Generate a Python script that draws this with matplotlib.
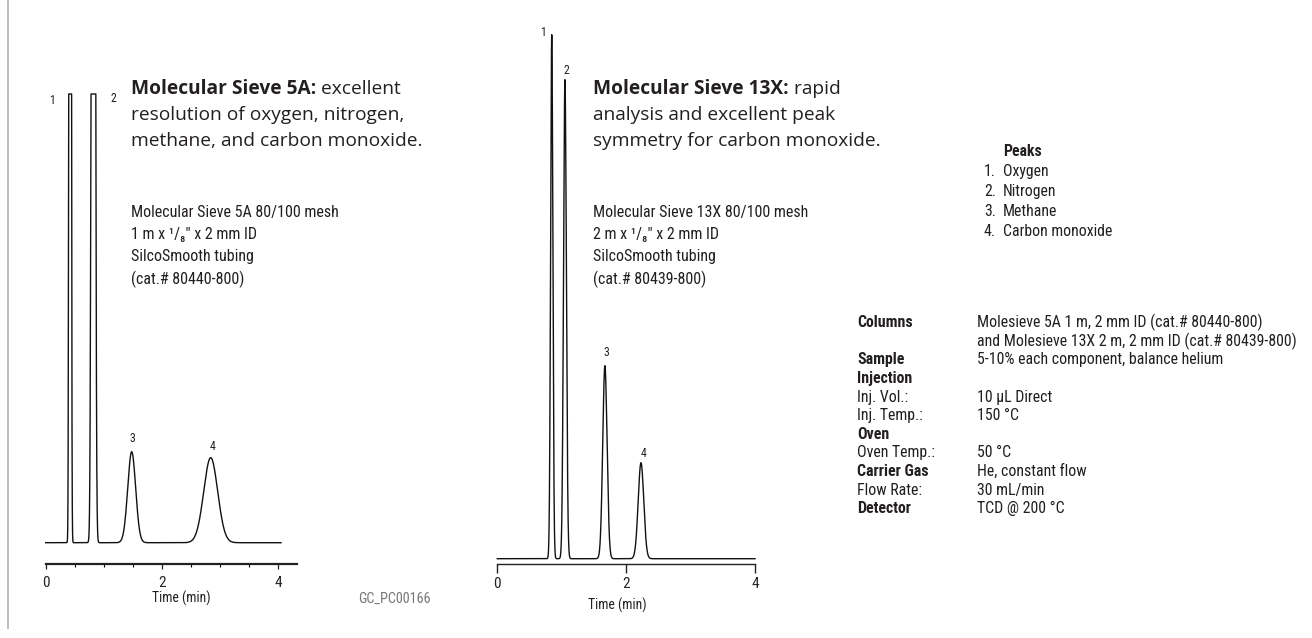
import numpy as np
import matplotlib
matplotlib.use("Agg")
import matplotlib.pyplot as plt
from matplotlib.ticker import MultipleLocator, FixedLocator

# ---------------- data ----------------
peak_ids = ["1", "2", "3", "4"]
peak_names = ["Oxygen", "Nitrogen", "Methane", "Carbon monoxide"]

# Molecular Sieve 5A chromatogram (peaks 1,2 off-scale)
rt_5a = [0.42, 0.82, 1.48, 2.84]        # retention time, min
height_5a = [5000, 3000, 91, 85]         # detector response (arb.)
sigma_5a = [0.012, 0.022, 0.068, 0.12]   # peak width (min)
full_scale_5a = 448.7
run_end_5a = 4.05

# Molecular Sieve 13X chromatogram
rt_13x = [0.845, 1.05, 1.67, 2.23]
height_13x = [524, 479, 193, 96]
sigma_13x = [0.0175, 0.022, 0.0335, 0.043]
run_end_13x = 4.0

x_ticks = [0, 2, 4]
x_label = "Time (min)"

header_5a = [("Molecular Sieve 5A:", " excellent"),
             ("", "resolution of oxygen, nitrogen,"),
             ("", "methane, and carbon monoxide.")]
header_13x = [("Molecular Sieve 13X:", " rapid"),
              ("", "analysis and excellent peak"),
              ("", "symmetry for carbon monoxide.")]
column_5a = ["Molecular Sieve 5A 80/100 mesh", "1 m x ¹/₈\" x 2 mm ID",
             "SilcoSmooth tubing", "(cat.# 80440-800)"]
column_13x = ["Molecular Sieve 13X 80/100 mesh", "2 m x ¹/₈\" x 2 mm ID",
              "SilcoSmooth tubing", "(cat.# 80439-800)"]

cond_labels = ["Columns", "", "Sample", "Injection", "Inj. Vol.:", "Inj. Temp.:",
               "Oven", "Oven Temp.:", "Carrier Gas", "Flow Rate:", "Detector"]
cond_bold = [True, False, True, True, False, False, True, False, True, False, True]
cond_values = ["Molesieve 5A 1 m, 2 mm ID (cat.# 80440-800)",
               "and Molesieve 13X 2 m, 2 mm ID (cat.# 80439-800)",
               "5-10% each component, balance helium", "",
               "10 µL Direct", "150 °C", "", "50 °C",
               "He, constant flow", "30 mL/min", "TCD @ 200 °C"]
figure_code = "GC_PC00166"

# ---------------- layout helpers ----------------
W, H = 1312, 638
DPI = 100
fig = plt.figure(figsize=(W / DPI, H / DPI), dpi=DPI)
fig.patch.set_facecolor("white")
renderer = fig.canvas.get_renderer()

TXT = "#231f20"
NARROW = ["Roboto Condensed", "Liberation Sans Narrow", "Roboto", "DejaVu Sans"]
HEAD = ["Open Sans", "DejaVu Sans"]


def fx(px):
    return px / W


def fy(py):
    return 1 - py / H


def fit_size(sample, target_px, nominal=13, weight="normal"):
    t = fig.text(0, 0, sample, fontsize=10, family=NARROW, weight=weight,
                 fontstretch="condensed")
    w = t.get_window_extent(renderer=renderer).width
    t.remove()
    return min(nominal, 10 * target_px / w)


def make_axes(x0_px, px_per_min, xlim, base_px, bottom_px, top_px, ylim_bottom):
    left = x0_px + xlim[0] * px_per_min
    right = x0_px + xlim[1] * px_per_min
    ax = fig.add_axes([fx(left), fy(bottom_px), (right - left) / W, (bottom_px - top_px) / H])
    ax.set_xlim(*xlim)
    ax.set_ylim(ylim_bottom, base_px - top_px)
    ax.patch.set_alpha(0)
    for s in ["top", "right", "left"]:
        ax.spines[s].set_visible(False)
    ax.set_yticks([])
    return ax


def trace(rts, hs, sigs, t_end):
    t = np.linspace(0, t_end, 6000)
    y = np.zeros_like(t)
    for r, h, s in zip(rts, hs, sigs):
        y += h * np.exp(-0.5 * ((t - r) / s) ** 2)
    return t, y


fs_tick = 11
fs_axis = fit_size(x_label, 58)
fs_code = fit_size(figure_code, 72)
fs_col = fit_size(column_5a[0], 207)
fs_cond = fit_size(cond_values[1], 319)
fs_peaks = fit_size(peak_names[3], 109)
fs_lab = fit_size("Carrier Gas", 71.5, weight="bold")
fs_num = 8.5

# ---------------- left chromatogram ----------------
axL = make_axes(45.7, 58.1, (-0.12, 4.45), 542.7, 564, 88, -21.3)
tL, yL = trace(rt_5a, height_5a, sigma_5a, run_end_5a)
yL = np.minimum(yL, full_scale_5a)
axL.plot(tL, yL, color="#111111", lw=1.0)
axL.spines["bottom"].set_bounds(0, 4.32)
axL.spines["bottom"].set_linewidth(1.6)
axL.spines["bottom"].set_color("#222222")
axL.xaxis.set_major_locator(FixedLocator(x_ticks))
axL.xaxis.set_minor_locator(MultipleLocator(0.5))
axL.tick_params(axis="x", which="major", length=3.5, width=0.9, pad=5,
                labelsize=fs_tick, colors="#222222")
axL.tick_params(axis="x", which="minor", length=2.5, width=0.8)
for lab in axL.get_xticklabels():
    lab.set_family(NARROW)
    lab.set_fontstretch("condensed")
label_offsets_5a = [(-18, -6), (20.5, -5), (1, 12.7), (2.3, 11.3)]
for pid, r, h, off in zip(peak_ids, rt_5a, height_5a, label_offsets_5a):
    axL.annotate(pid, (r, min(h, full_scale_5a)), xytext=off, textcoords="offset pixels",
                 ha="center", va="center", fontsize=fs_num, family=NARROW,
                 fontstretch="condensed", color=TXT, annotation_clip=False)

# ---------------- right chromatogram ----------------
axR = make_axes(497.3, 64.43, (-0.12, 4.2), 558.7, 564, 20, -5.3)
tR, yR = trace(rt_13x, height_13x, sigma_13x, run_end_13x)
axR.plot(tR, yR, color="#111111", lw=1.0)
axR.spines["bottom"].set_bounds(0, 4)
axR.spines["bottom"].set_linewidth(1.0)
axR.spines["bottom"].set_color("#222222")
axR.xaxis.set_major_locator(FixedLocator(x_ticks))
axR.tick_params(axis="x", which="major", length=6.5, width=1.0, pad=3,
                labelsize=fs_tick, colors="#222222")
for lab in axR.get_xticklabels():
    lab.set_family(NARROW)
    lab.set_fontstretch("condensed")
label_offsets_13x = [(-8.4, 2), (1, 9.3), (1, 12.7), (3, 9.6)]
for pid, r, h, off in zip(peak_ids, rt_13x, height_13x, label_offsets_13x):
    axR.annotate(pid, (r, h), xytext=off, textcoords="offset pixels",
                 ha="center", va="center", fontsize=fs_num, family=NARROW,
                 fontstretch="condensed", color=TXT, annotation_clip=False)

# axis titles
fig.text(fx(181), fy(598), x_label, ha="center", va="center", fontsize=fs_axis,
         family=NARROW, fontstretch="condensed", color=TXT)
fig.text(fx(617.7), fy(605), x_label, ha="center", va="center", fontsize=fs_axis,
         family=NARROW, fontstretch="condensed", color=TXT)
fig.text(fx(394), fy(599), figure_code, ha="center", va="center", fontsize=fs_code,
         family=NARROW, fontstretch="condensed", color="#777777")


# ---------------- headers ----------------
def draw_header(x_px, y0_px, lines, step=26, fs=13.8):
    for i, (b, r) in enumerate(lines):
        y = fy(y0_px + i * step)
        xr = fx(x_px)
        if b:
            tb = fig.text(fx(x_px), y, b, ha="left", va="center", fontsize=fs,
                          family=HEAD, weight="bold", color=TXT)
            bb = tb.get_window_extent(renderer=renderer)
            xr = bb.x1 / W
        fig.text(xr, y, r, ha="left", va="center", fontsize=fs, family=HEAD, color=TXT)


draw_header(131, 89, header_5a)
draw_header(593.3, 89, header_13x)


def draw_lines(x_px, y0_px, lines, step=22.3):
    for i, s in enumerate(lines):
        fig.text(fx(x_px), fy(y0_px + i * step), s, ha="left", va="center",
                 fontsize=fs_col, family=NARROW, fontstretch="condensed", color=TXT)


draw_lines(131, 212, column_5a)
draw_lines(593.3, 212, column_13x)

# ---------------- peaks list ----------------
fig.text(fx(1002.7), fy(151), "Peaks", ha="left", va="center", fontsize=fs_peaks,
         family=NARROW, fontstretch="condensed", weight="bold", color=TXT)
for i, (pid, name) in enumerate(zip(peak_ids, peak_names)):
    y = fy(171.7 + i * 19.9)
    fig.text(fx(996), y, pid + ".", ha="right", va="center", fontsize=fs_peaks,
             family=NARROW, fontstretch="condensed", color=TXT)
    fig.text(fx(1002.7), y, name, ha="left", va="center", fontsize=fs_peaks,
             family=NARROW, fontstretch="condensed", color=TXT)

# ---------------- conditions ----------------
for i, (lab, b, val) in enumerate(zip(cond_labels, cond_bold, cond_values)):
    y = fy(322.7 + i * 18.6)
    if lab:
        fig.text(fx(857.3), y, lab, ha="left", va="center",
                 fontsize=fs_lab if b else fs_cond,
                 family=NARROW, fontstretch="condensed",
                 weight="bold" if b else "normal", color=TXT)
    if val:
        fig.text(fx(976.7), y, val, ha="left", va="center", fontsize=fs_cond,
                 family=NARROW, fontstretch="condensed", color=TXT)

# left frame rule
fig.add_artist(plt.Line2D([fx(7.5), fx(7.5)], [fy(0), fy(628)], color="#b0b0b0", lw=1.2))

fig.savefig("out.png", dpi=DPI, facecolor="white")
